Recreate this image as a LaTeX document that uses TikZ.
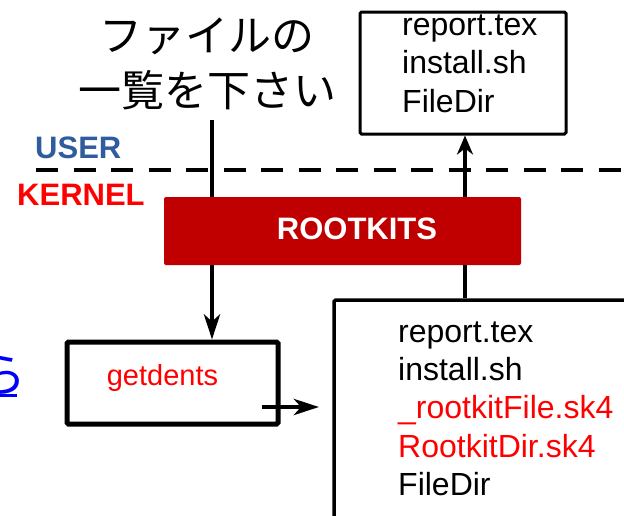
\documentclass[tikz,border=0pt]{standalone}
\usepackage{fontspec}
\setmainfont{Liberation Sans}
\newfontfamily\jpfont{Noto Sans CJK JP}
\usetikzlibrary{arrows.meta}

\definecolor{userblue}{RGB}{46,92,158}
\definecolor{rkred}{RGB}{192,0,0}
\definecolor{hlred}{RGB}{255,0,0}
\definecolor{linkblue}{RGB}{0,0,255}

\begin{document}
\begin{tikzpicture}[x=1pt,y=-1pt,
  filetxt/.style={anchor=base west,inner sep=0pt,font=\fontsize{32}{38}\selectfont},
  jptxt/.style={anchor=base,inner sep=0pt,font=\jpfont\fontsize{43}{55}\selectfont},
  layer/.style={anchor=base west,inner sep=0pt,font=\bfseries\fontsize{31}{37}\selectfont},
  box/.style={draw,rectangle,rounded corners=1.5pt,inner sep=0pt},
  conn/.style={line width=4.5pt},
  arr/.style={conn,-{Stealth[length=25pt,width=16pt,inset=7pt]}},
  arrshort/.style={conn,-{Stealth[length=19pt,width=16pt,inset=6pt]}},
]
\useasboundingbox (0,0) rectangle (624,515);

% request from user space
\node[jptxt] (jp1) at (207,51) {ファイルの};
\node[jptxt] (jp2) at (207,106) {一覧を下さい};
\coordinate (req) at (212,120);

% user / kernel boundary
\coordinate (bl) at (36,170);
\coordinate (br) at (624,170);
\draw[line width=4pt,dash pattern=on 22pt off 15.5pt] (bl) -- (br);
\node[layer,text=userblue] (user) at (35,158) {USER};
\node[layer,text=hlred] (kernel) at (17,205) {KERNEL};

% rootkit layer
\node[rectangle,fill=rkred,rounded corners=2pt,minimum width=357pt,minimum height=68pt,inner sep=0pt] (rk) at (342.5,231) {};
\node[anchor=base,inner sep=0pt,text=white,font=\bfseries\fontsize{31}{37}\selectfont] (rktxt) at (357,239) {ROOTKITS};

% system call
\node[box,line width=5pt,minimum width=211pt,minimum height=82pt] (gd) at (172.5,383) {};
\node[anchor=base,inner sep=0pt,text=hlred,font=\fontsize{29}{35}\selectfont] (gdtxt) at (162.5,385) {getdents};

% listing seen by the user
\node[box,line width=3pt,minimum width=206pt,minimum height=122pt] (seen) at (463,73) {};
\node[filetxt] (s1) at (402,35) {report.tex};
\node[filetxt] (s2) at (402,73) {install.sh};
\node[filetxt] (s3) at (402,112) {FileDir};

% real directory listing
\node[box,line width=3.5pt,minimum width=366pt,minimum height=300pt] (real) at (517,450) {};
\node[filetxt] (r1) at (398,342) {report.tex};
\node[filetxt] (r2) at (398,380) {install.sh};
\node[filetxt,text=hlred] (r3) at (398,418) {\_rootkitFile.sk4};
\node[filetxt,text=hlred] (r4) at (398,457) {RootkitDir.sk4};
\node[filetxt] (r5) at (398,495) {FileDir};

% link fragment on the left
\node[anchor=base east,inner sep=0pt,text=linkblue,font=\jpfont\fontsize{48}{48}\selectfont] (lk) at (27,392) {ら};
\coordinate (ul1) at (0,395);
\coordinate (ul2) at (17,395);
\draw[linkblue,line width=3pt] (ul1) -- (ul2);

% connectors
\coordinate (rx) at (465,0);
\draw[conn] (req) -- (rk.north -| req);
\draw[arr] (rk.south -| req) -- (gd.north -| req);
\draw[conn] (rk.south -| rx) -- (real.north -| rx);
\draw[arrshort] (rk.north -| rx) -- (seen.south -| rx);
\coordinate (hs) at (262,407);
\coordinate (he) at (319,407);
\draw[arr] (hs) -- (he);
\end{tikzpicture}
\end{document}
